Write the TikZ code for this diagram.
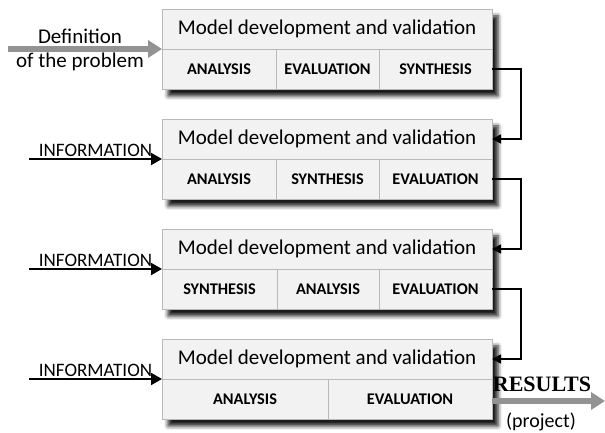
\documentclass[tikz,border=0pt]{standalone}
\usepackage{fontspec}
\setmainfont{Carlito}
\newfontfamily\resfont{Liberation Serif}
\usetikzlibrary{positioning,arrows.meta,shadows.blur}

\begin{document}
\begin{tikzpicture}[x=1pt, y=1pt, node distance={30pt}, thick,
    frame/.style = {draw=gray!55, fill=gray!10, minimum width=330pt, minimum height=80pt, outer sep=0pt,
                    blur shadow={shadow xshift=6pt, shadow yshift=-7pt, shadow blur radius=4pt, shadow opacity=90}},
    title/.style = {draw=gray!55, fill=gray!10, minimum width=330pt, minimum height=40pt, outer sep=0pt,
                    anchor=north, font=\fontsize{21}{24}\selectfont},
    cell/.style = {draw=gray!55, fill=gray!10, minimum height=40pt, outer sep=0pt, font=\bfseries\fontsize{16.3}{19}\selectfont},
    info/.style = {-{Triangle[length=11pt,width=12pt]}, line width=2pt},
    link/.style = {-{Triangle[length=9pt,width=9pt]}, line width=1.6pt},
    big/.style = {-{Triangle[length=14pt,width=17pt]}, line width=6pt, draw=gray!85},
    side/.style = {font=\fontsize{19}{22}\selectfont}]
    \useasboundingbox (0,0) rectangle (605,433);

    % first box
    \node[frame] (b1) at (327,384) {};
    \node[title] (t1) at (b1.north) {Model development and validation};
    \node[cell, minimum width=114pt, anchor=south west] (a1) at (b1.south west) {ANALYSIS};
    \node[cell, minimum width=103pt, right=0pt of a1] (e1) {EVALUATION};
    \node[cell, minimum width=113pt, right=0pt of e1] (s1) {SYNTHESIS};

    % second box
    \node[frame, below=of b1] (b2) {};
    \node[title] (t2) at (b2.north) {Model development and validation};
    \node[cell, minimum width=114pt, anchor=south west] (a2) at (b2.south west) {ANALYSIS};
    \node[cell, minimum width=103pt, right=0pt of a2] (s2) {SYNTHESIS};
    \node[cell, minimum width=113pt, right=0pt of s2] (e2) {EVALUATION};

    % third box
    \node[frame, below=of b2] (b3) {};
    \node[title] (t3) at (b3.north) {Model development and validation};
    \node[cell, minimum width=115pt, anchor=south west] (s3) at (b3.south west) {SYNTHESIS};
    \node[cell, minimum width=102pt, right=0pt of s3] (a3) {ANALYSIS};
    \node[cell, minimum width=113pt, right=0pt of a3] (e3) {EVALUATION};

    % fourth box
    \node[frame, below=of b3] (b4) {};
    \node[title] (t4) at (b4.north) {Model development and validation};
    \node[cell, minimum width=166pt, anchor=south west] (a4) at (b4.south west) {ANALYSIS};
    \node[cell, minimum width=164pt, right=0pt of a4] (e4) {EVALUATION};

    % connectors between boxes
    \draw[link] (s1.east) -- ++(29,0) |- (t2.east);
    \draw[link] (e2.east) -- ++(29,0) |- (t3.east);
    \draw[link] (e3.east) -- ++(29,0) |- (t4.east);

    % inputs
    \coordinate[left=154pt of t1.south west] (p1);
    \draw[big] (p1) -- (t1.south west);
    \node[side, font=\fontsize{21}{24}\selectfont] (d1) at (80,397) {Definition};
    \node[side, font=\fontsize{21}{24}\selectfont] (d2) at (80,371) {of the problem};
    \foreach \i in {2,3,4} {
        \coordinate[left=133pt of t\i.south west] (p\i);
        \draw[info] (p\i) -- node[side, above, inner sep=1pt] {INFORMATION} (t\i.south west);
    }

    % output
    \coordinate (r) at (605,32);
    \draw[big] (e4.east |- r) -- (r);
    \node[font=\resfont\bfseries\fontsize{22}{25}\selectfont] (res) at (542,49) {RESULTS};
    \node[side, font=\fontsize{20}{23}\selectfont] (prj) at (541,11) {(project)};
\end{tikzpicture}
\end{document}
